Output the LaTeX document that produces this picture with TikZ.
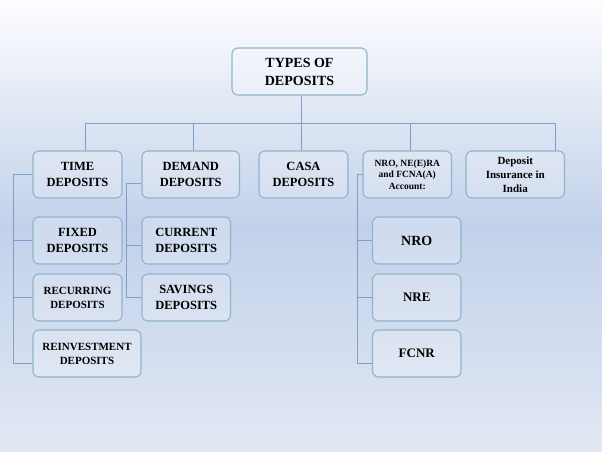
\documentclass[tikz,border=0pt]{standalone}
\usepackage{fontspec}
\setmainfont{Liberation Serif}
\usetikzlibrary{calc}
\definecolor{bgtop}{HTML}{FDFDFF}
\definecolor{bgmid}{HTML}{C2D1EA}
\definecolor{bgbot}{HTML}{E2E8F4}
\definecolor{boxline}{HTML}{8FB4CB}
\definecolor{conn}{HTML}{7F9FC6}
\tikzset{
  dbox/.style={draw=boxline, line width=1.1pt, rounded corners=6pt,
    fill=white, fill opacity=0.22, text opacity=1, inner sep=0pt,
    align=center, text=black, minimum height=47pt},
  fnttop/.style={font=\fontsize{14}{18}\selectfont\bfseries},
  fntmid/.style={font=\fontsize{12.5}{16}\selectfont\bfseries},
  fntsml/.style={font=\fontsize{11}{14}\selectfont\bfseries},
  fnttiny/.style={font=\fontsize{9.5}{11.7}\selectfont\bfseries},
  conline/.style={draw=conn, line width=0.8pt},
}
\begin{document}
\begin{tikzpicture}[x=1pt,y=-1pt]
\useasboundingbox (0,0) rectangle (602,452);
\shade[top color=bgtop, bottom color=bgbot, middle color=bgmid] (0,0) rectangle (602,452);

% connectors first
\coordinate (topS) at (301,95);
\coordinate (bus) at (301,123);
\coordinate (dTime) at (85,151);
\coordinate (dDem) at (193,151);
\coordinate (dCasa) at (301,151);
\coordinate (dNro) at (410,151);
\coordinate (dDep) at (555,151);
\draw[conline] (topS) -- (bus);
\draw[conline] (bus) -| (dTime);
\draw[conline] (bus) -| (dDem);
\draw[conline] (bus) -- (dCasa);
\draw[conline] (bus) -| (dNro);
\draw[conline] (bus) -| (dDep);

% nodes
\node[dbox, fnttop, minimum width=135pt] (top) at (299.5,71.5) {TYPES OF\\DEPOSITS};
\node[dbox, fntmid, minimum width=89pt] (time) at (77.5,174.5) {TIME\\DEPOSITS};
\node[dbox, fntmid, minimum width=97.5pt] (demand) at (190.75,174.5) {DEMAND\\DEPOSITS};
\node[dbox, fntmid, minimum width=89pt] (casa) at (303.5,174.5) {CASA\\DEPOSITS};
\node[dbox, fnttiny, minimum width=88.5pt] (nro) at (407.25,174.5) {NRO, NE(E)RA\\and FCNA(A)\\Account:};
\node[dbox, fntsml, minimum width=98.5pt] (dep) at (515.25,174.5) {Deposit\\Insurance in\\India};

\node[dbox, fntmid, minimum width=89pt] (fixed) at (77.5,240.5) {FIXED\\DEPOSITS};
\node[dbox, fntsml, minimum width=89pt] (recur) at (77.5,297.5) {RECURRING\\DEPOSITS};
\node[dbox, fntsml, minimum width=108pt] (reinv) at (87,353.5) {REINVESTMENT\\DEPOSITS};

\node[dbox, fntmid, minimum width=88.5pt] (current) at (186.25,240.5) {CURRENT\\DEPOSITS};
\node[dbox, fntmid, minimum width=88.5pt] (savings) at (186.25,297.5) {SAVINGS\\DEPOSITS};

\node[dbox, font=\fontsize{14}{16}\selectfont\bfseries, minimum width=88.5pt] (nroc) at (416.75,240.5) {NRO};
\node[dbox, font=\fontsize{13}{16}\selectfont\bfseries, minimum width=88.5pt] (nre) at (416.75,297.5) {NRE};
\node[dbox, font=\fontsize{13}{16}\selectfont\bfseries, minimum width=88.5pt] (fcnr) at (416.75,353.5) {FCNR};

% time children
\draw[conline] (time.west) -- ++(-19,0) coordinate (tb) |- ($(reinv.west)+(0,9.5)$);
\draw[conline] (tb |- fixed.west) -- (fixed.west);
\draw[conline] (tb |- recur.west) -- (recur.west);

% demand children
\draw[conline] ($(demand.west)+(0,8.5)$) -- ++(-15,0) coordinate (db) |- (savings.west);
\draw[conline] ($(db |- current.west)+(0,4.5)$) -- ($(current.west)+(0,4.5)$);

% nro children
\draw[conline] (nro.west) -- ++(-5,0) coordinate (nb) |- ($(fcnr.west)+(0,9.5)$);
\draw[conline] (nb |- nroc.west) -- (nroc.west);
\draw[conline] (nb |- nre.west) -- (nre.west);
\end{tikzpicture}
\end{document}
